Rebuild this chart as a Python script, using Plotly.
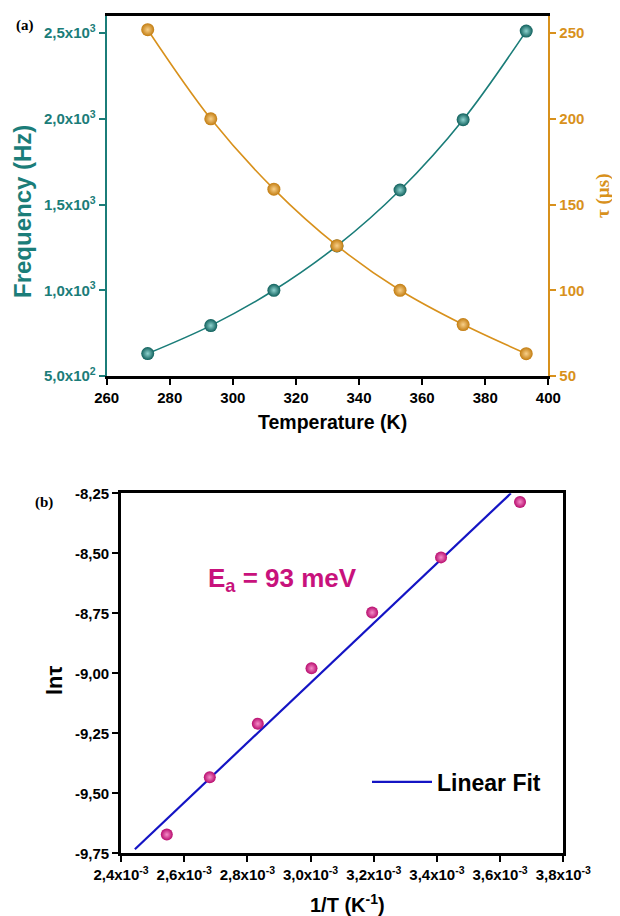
import plotly.graph_objects as go

# ---------------- data ----------------
temperature_K = [273, 293, 313, 333, 353, 373, 393]
frequency_Hz = [631, 794, 1000, 1259, 1585, 1995, 2512]
tau_us = [252, 200, 159, 126, 100, 80, 63]

inv_T = [3.663e-3, 3.413e-3, 3.195e-3, 3.003e-3, 2.833e-3, 2.681e-3, 2.545e-3]
ln_tau = [-8.286, -8.517, -8.747, -8.979, -9.210, -9.433, -9.672]
fit_x = [2.444e-3, 3.634e-3]
fit_y = [-9.733, -8.25]

temp_ticks = [260, 280, 300, 320, 340, 360, 380, 400]
freq_tickvals = [500, 1000, 1500, 2000, 2500]
freq_ticktext = ["5,0x10<sup>2</sup>", "1,0x10<sup>3</sup>", "1,5x10<sup>3</sup>",
                 "2,0x10<sup>3</sup>", "2,5x10<sup>3</sup>"]
tau_ticks = [50, 100, 150, 200, 250]
invT_tickvals = [2.4e-3, 2.6e-3, 2.8e-3, 3.0e-3, 3.2e-3, 3.4e-3, 3.6e-3, 3.8e-3]
invT_ticktext = ["2,4x10<sup>-3</sup>", "2,6x10<sup>-3</sup>", "2,8x10<sup>-3</sup>",
                 "3,0x10<sup>-3</sup>", "3,2x10<sup>-3</sup>", "3,4x10<sup>-3</sup>",
                 "3,6x10<sup>-3</sup>", "3,8x10<sup>-3</sup>"]
lntau_tickvals = [-9.75, -9.5, -9.25, -9.0, -8.75, -8.5, -8.25]
lntau_ticktext = ["-9,75", "-9,50", "-9,25", "-9,00", "-8,75", "-8,50", "-8,25"]

# ---------------- style ----------------
OFF = 8                      # default page body margin
W, H = 620 - OFF, 916 - OFF  # figure size that fits the window
TEAL = "#1b7d79"
TEAL_DARK = "#0f5f5b"
TEAL_LIGHT = "#8fd3cf"
ORANGE = "#d8911c"
ORANGE_DARK = "#c27c10"
ORANGE_LIGHT = "#f8d08a"
MAGENTA = "#c8127c"
MAGENTA_DARK = "#b80c6e"
MAGENTA_LIGHT = "#f58cc8"
BLUE = "#1414c4"
SANS = "Liberation Sans, Arial, sans-serif"
SERIF = "Liberation Serif, Times New Roman, serif"


def fx(x):
    return (x - OFF) / W


def fy(y):
    return 1 - (y - OFF) / H


fig = go.Figure()

fig.add_trace(go.Scatter(
    x=temperature_K, y=frequency_Hz, xaxis="x", yaxis="y",
    mode="lines+markers", line=dict(color=TEAL, width=1.6, shape="spline"),
    marker=dict(size=13, color=TEAL_DARK, gradient=dict(type="radial", color=TEAL_LIGHT),
                line=dict(width=0)),
    showlegend=False))
fig.add_trace(go.Scatter(
    x=temperature_K, y=tau_us, xaxis="x", yaxis="y2",
    mode="lines+markers", line=dict(color=ORANGE, width=1.6, shape="spline"),
    marker=dict(size=13, color=ORANGE_DARK, gradient=dict(type="radial", color=ORANGE_LIGHT),
                line=dict(width=0)),
    showlegend=False))

fig.add_trace(go.Scatter(
    x=fit_x, y=fit_y, xaxis="x3", yaxis="y3", mode="lines",
    line=dict(color=BLUE, width=2.2), name="Linear Fit", showlegend=True))
fig.add_trace(go.Scatter(
    x=inv_T, y=ln_tau, xaxis="x3", yaxis="y3", mode="markers",
    marker=dict(size=12, color=MAGENTA_DARK, gradient=dict(type="radial", color=MAGENTA_LIGHT),
                line=dict(width=0)),
    showlegend=False))

tickfont_black = dict(family=SANS, size=15, color="black", weight="bold")

fig.update_layout(
    width=W, height=H, autosize=False,
    margin=dict(l=0, r=0, t=0, b=0, autoexpand=False),
    paper_bgcolor="white", plot_bgcolor="white",
    xaxis=dict(domain=[fx(106.7), fx(548.3)], anchor="y", range=[260, 400],
               tickvals=temp_ticks, ticks="outside", ticklen=6, tickwidth=2,
               tickcolor="black", showline=True, linecolor="black", linewidth=2.6,
               mirror=True, showgrid=False, zeroline=False, tickfont=tickfont_black,
               automargin=False),
    yaxis=dict(domain=[fy(376), fy(16)], anchor="x", range=[500, 2600],
               tickvals=freq_tickvals, ticktext=freq_ticktext, ticks="outside",
               ticklen=6, tickwidth=2, tickcolor=TEAL, showline=True, linecolor=TEAL,
               linewidth=2, showgrid=False, zeroline=False, automargin=False,
               tickfont=dict(family=SANS, size=15, color=TEAL, weight="bold")),
    yaxis2=dict(overlaying="y", side="right", anchor="x", range=[50, 260],
                tickvals=tau_ticks, ticks="outside", ticklen=6, tickwidth=2,
                tickcolor=ORANGE, showline=True, linecolor=ORANGE, linewidth=2,
                showgrid=False, zeroline=False, automargin=False,
                tickfont=dict(family=SANS, size=15, color=ORANGE, weight="bold")),
    xaxis3=dict(domain=[fx(121), fx(563.3)], anchor="y3", range=[2.4e-3, 3.8e-3],
                tickvals=invT_tickvals, ticktext=invT_ticktext, ticks="outside",
                ticklen=6, tickwidth=2, tickcolor="black", showline=True,
                linecolor="black", linewidth=2.6, mirror=True, showgrid=False,
                zeroline=False, tickfont=tickfont_black, automargin=False),
    yaxis3=dict(domain=[fy(853.3), fy(493.3)], anchor="x3", range=[-9.75, -8.25],
                tickvals=lntau_tickvals, ticktext=lntau_ticktext, ticks="outside",
                ticklen=6, tickwidth=2, tickcolor="black", showline=True,
                linecolor="black", linewidth=2.6, mirror=True, showgrid=False,
                zeroline=False, tickfont=tickfont_black, automargin=False),
    legend=dict(x=fx(367), y=fy(782), xanchor="left", yanchor="middle",
                bgcolor="rgba(0,0,0,0)", borderwidth=0, itemwidth=60,
                font=dict(family=SANS, size=23, color="black", weight="bold")),
)

annotations = [
    dict(text="(a)", pos=(24.5, 25.5), font=dict(family=SERIF, size=15, color="black", weight="bold")),
    dict(text="(b)", pos=(44, 502), font=dict(family=SERIF, size=15, color="black", weight="bold")),
    dict(text="Frequency (Hz)", pos=(23, 212), angle=-90,
         font=dict(family=SANS, size=24, color=TEAL, weight="bold")),
    dict(text="τ (µs)", pos=(603, 196), angle=-90,
         font=dict(family=SERIF, size=19, color=ORANGE, weight="bold")),
    dict(text="Temperature (K)", pos=(332, 422),
         font=dict(family=SANS, size=19.5, color="black", weight="bold")),
    dict(text="lnτ", pos=(54, 680), angle=-90,
         font=dict(family=SANS, size=22, color="black", weight="bold")),
    dict(text="1/T (K<sup>-1</sup>)", pos=(347, 903),
         font=dict(family=SANS, size=20, color="black", weight="bold")),
]
for a in annotations:
    x, y = a["pos"]
    fig.add_annotation(text=a["text"], x=fx(x), y=fy(y), xref="paper", yref="paper",
                       xanchor="center", yanchor="middle", showarrow=False,
                       textangle=a.get("angle", 0), font=a["font"])

fig.add_annotation(text="E<sub>a</sub> = 93 meV", x=fx(206), y=fy(579), xref="paper",
                   yref="paper", xanchor="left", yanchor="middle", showarrow=False,
                   font=dict(family=SANS, size=26, color=MAGENTA, weight="bold"))

fig.write_html("out.html")
